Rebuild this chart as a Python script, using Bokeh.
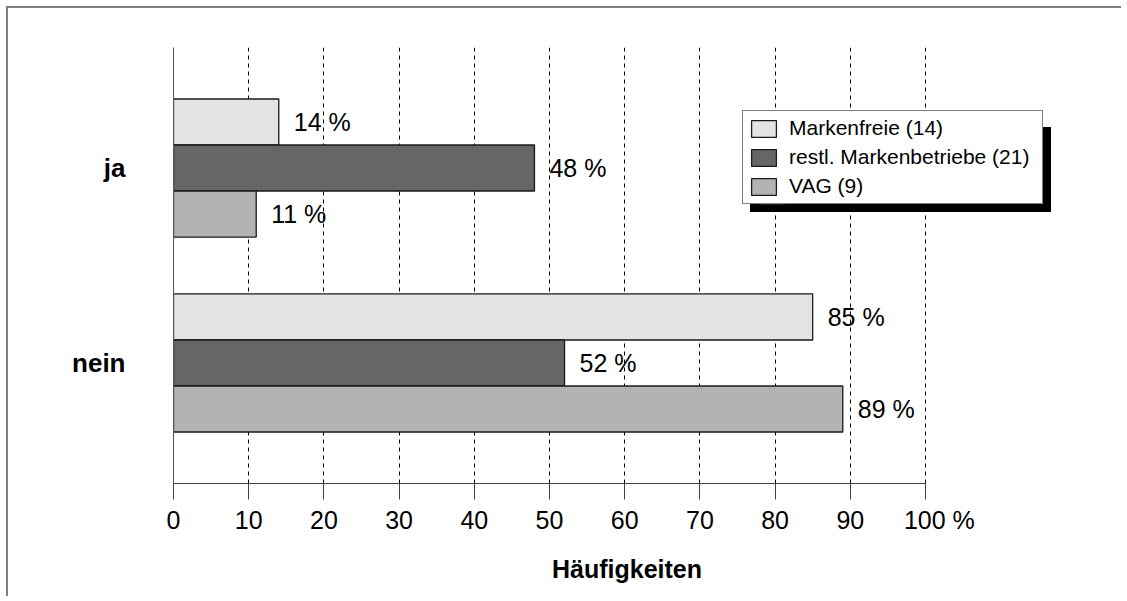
from bokeh.plotting import figure
from bokeh.models import (FactorRange, Range1d, FixedTicker, Legend, LegendItem,
                          ColumnDataSource)
from bokeh.transform import dodge
from bokeh.core.properties import value
from bokeh.embed import file_html
from bokeh.resources import INLINE

# ---------------- data ----------------
categories = ["ja", "nein"]
series_names = ["Markenfreie (14)", "restl. Markenbetriebe (21)", "VAG (9)"]
markenfreie = [14, 85]
restl_markenbetriebe = [48, 52]
vag = [11, 89]
x_ticks = [0, 10, 20, 30, 40, 50, 60, 70, 80, 90, 100]
x_title = "Häufigkeiten"

# ---------------- styling ----------------
colors = ["#e3e3e3", "#666666", "#b3b3b3"]
FONT = "Liberation Sans"
W, H = 1115, 590
ML, MT, MR, MB = 165, 39, 43, 115
frame_w = W - ML - MR
px_per_unit = 7.52
x_end = frame_w / px_per_unit
bar_h = 0.236
offsets = [bar_h, 0.0, -bar_h]

y_range = FactorRange(factors=["nein", "ja"], range_padding=0.118,
                      range_padding_units="absolute")

p = figure(width=W, height=H, y_range=y_range, x_range=Range1d(0, x_end),
           output_backend="svg", toolbar_location=None,
           min_border_left=ML, min_border_top=MT, min_border_right=MR,
           min_border_bottom=MB)
p.outline_line_color = None
p.background_fill_color = "white"
p.border_fill_color = "white"
p.styles = {"border-top": "2px solid #808080", "border-left": "2px solid #808080",
            "margin-top": "6px", "margin-left": "6px"}

# grid
p.ygrid.grid_line_color = None
p.xgrid.ticker = FixedTicker(ticks=x_ticks)
p.xgrid.grid_line_color = "black"
p.xgrid.grid_line_dash = "4 4"
p.xgrid.grid_line_width = 1

# x axis
p.xaxis.ticker = FixedTicker(ticks=x_ticks)
p.xaxis.bounds = (0, 100)
p.xaxis.major_label_overrides = {100: "\u00a0\u00a0\u00a0\u00a0100 %"}
p.xaxis.axis_line_color = "#404040"
p.xaxis.major_tick_line_color = "#404040"
p.xaxis.major_tick_out = 16
p.xaxis.major_tick_in = 0
p.xaxis.minor_tick_line_color = None
p.xaxis.major_label_standoff = 6
p.xaxis.major_label_text_font = FONT
p.xaxis.major_label_text_font_size = "25px"
p.xaxis.major_label_text_color = "black"
p.xaxis.axis_label = x_title
p.xaxis.axis_label_text_font = FONT
p.xaxis.axis_label_text_font_size = "25px"
p.xaxis.axis_label_text_font_style = "bold"
p.xaxis.axis_label_text_color = "black"
p.xaxis.axis_label_standoff = 18

# y axis
p.yaxis.axis_line_color = "#555555"
p.yaxis.major_tick_line_color = None
p.yaxis.minor_tick_line_color = None
p.yaxis.major_tick_out = 0
p.yaxis.major_tick_in = 0
p.yaxis.major_label_standoff = 48
p.yaxis.major_label_text_font = FONT
p.yaxis.major_label_text_font_size = "26px"
p.yaxis.major_label_text_font_style = "bold"
p.yaxis.major_label_text_color = "black"

# bars + value labels
renderers = []
for name, vals, col, off in zip(series_names,
                                [markenfreie, restl_markenbetriebe, vag],
                                colors, offsets):
    src = ColumnDataSource(dict(cat=categories, val=vals,
                                lab=[f"{v} %" for v in vals]))
    r = p.hbar(y=dodge("cat", off, range=p.y_range), left=0, right="val",
               height=bar_h, fill_color=col, line_color="#1a1a1a",
               line_width=1.3, source=src)
    p.text(x="val", y=dodge("cat", off, range=p.y_range), text="lab",
           x_offset=15, text_baseline="middle", text_align="left",
           text_font=value(FONT), text_font_size="25px", text_color="black",
           source=src)
    renderers.append(r)


def make_legend(loc, shadow):
    labels = [" " for _ in series_names] if shadow else series_names
    items = [LegendItem(label=n, renderers=[r]) for n, r in zip(labels, renderers)]
    lg = Legend(items=items, location=loc, orientation="vertical")
    lg.label_text_font = FONT
    lg.label_text_font_size = "21px"
    lg.glyph_width = 31
    lg.glyph_height = 21
    lg.label_height = 21
    lg.label_width = 248
    lg.label_standoff = 10
    lg.padding = 5
    lg.spacing = 5
    lg.margin = 0
    lg.border_line_color = "black"
    lg.border_line_width = 1
    lg.background_fill_alpha = 1
    if shadow:
        lg.background_fill_color = "black"
        lg.label_text_color = "black"
    else:
        lg.background_fill_color = "white"
        lg.label_text_color = "black"
    return lg


p.add_layout(make_legend((577, 271), True), "center")
p.add_layout(make_legend((569, 279), False), "center")

open("out.html", "w").write(file_html(p, INLINE))
